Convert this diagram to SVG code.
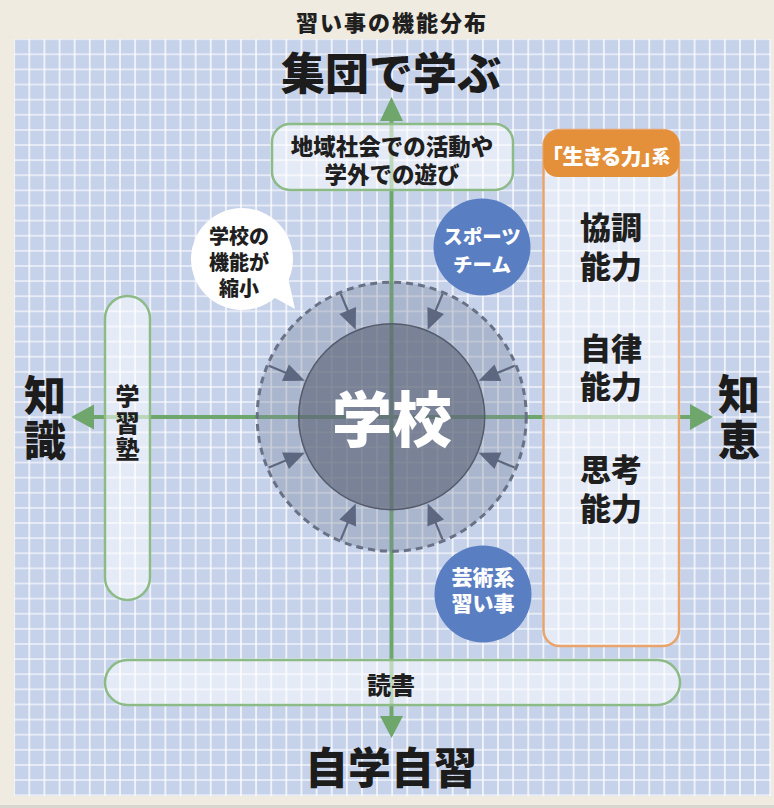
<svg xmlns="http://www.w3.org/2000/svg" width="774" height="808" viewBox="0 0 774 808">
<defs>
<pattern id="grid" x="21.74" y="46.74" width="15.12" height="15.12" patternUnits="userSpaceOnUse">
<rect width="15.12" height="15.12" fill="#c6d2ea"/>
<path d="M7.56 0V15.12" stroke="#ffffff" stroke-width="1.5" opacity="0.9"/>
<path d="M0 7.56H15.12" stroke="#ffffff" stroke-width="1.5" opacity="0.7"/>
</pattern>
<g id="inarrow">
<line x1="0" y1="-133" x2="0" y2="-112" stroke="#5d6880" stroke-width="2.2"/>
<polygon points="-9,-115 9,-115 0,-94" fill="#5d6880"/>
</g>
</defs>
<style>
.lbl{font-family:"Noto Sans CJK JP","Noto Sans CJK SC",sans-serif;font-weight:900;fill:#1f1f1f;text-anchor:middle;dominant-baseline:central}
.big{font-family:"Noto Sans CJK JP","Noto Sans CJK SC",sans-serif;font-weight:900;fill:#1c1c1c;text-anchor:middle;dominant-baseline:central}
.vert{writing-mode:vertical-rl;text-orientation:upright}
.wht{fill:#ffffff}
.gbox{fill:#ffffff;fill-opacity:0.55;stroke:#8dbb88;stroke-width:2.5}
.axis{stroke:#6ea66b;stroke-width:4;fill:none}
.ahead{fill:#6ea66b}
.blue{fill:#5a7ec2}
</style>
<rect width="774" height="808" fill="#efebe1"/>
<rect x="0" y="805" width="774" height="3" fill="#d9d6cf"/>
<rect x="14.2" y="39.2" width="756.8" height="756.8" fill="url(#grid)"/>

<text class="lbl" x="391" y="21" font-size="22" textLength="190">習い事の機能分布</text>

<g id="axes">
<line class="axis" x1="391.5" y1="119" x2="391.5" y2="718"/>
<line class="axis" x1="92" y1="417" x2="692" y2="417"/>
<polygon class="ahead" points="391.5,97 380,121 403,121"/>
<polygon class="ahead" points="391.5,738 380,716 403,716"/>
<polygon class="ahead" points="71,417 94,404.5 94,429.5"/>
<polygon class="ahead" points="713,417 690,404 690,430"/>
</g>

<g id="label-top"><text class="big" x="391" y="71" font-size="44">集団で学ぶ</text></g>
<g id="label-bottom"><text class="big" x="391" y="765" font-size="43">自学自習</text></g>
<g id="label-left"><text class="big vert" x="45" y="419" font-size="42" letter-spacing="3">知識</text></g>
<g id="label-right"><text class="big vert" x="739" y="419" font-size="42" letter-spacing="4">知恵</text></g>

<g id="school">
<circle cx="391.7" cy="416.7" r="134.5" fill="#7a849c" fill-opacity="0.36" stroke="#687185" stroke-width="3" stroke-dasharray="7 5"/>
<circle cx="391.7" cy="416.7" r="93" fill="#5a6275" fill-opacity="0.62" stroke="#545b6c" stroke-width="1.5"/>
<g transform="translate(391.7 416.7)">
<use href="#inarrow" transform="rotate(-22.5)"/>
<use href="#inarrow" transform="rotate(22.5)"/>
<use href="#inarrow" transform="rotate(67.5)"/>
<use href="#inarrow" transform="rotate(112.5)"/>
<use href="#inarrow" transform="rotate(157.5)"/>
<use href="#inarrow" transform="rotate(202.5)"/>
<use href="#inarrow" transform="rotate(247.5)"/>
<use href="#inarrow" transform="rotate(292.5)"/>
</g>
<text class="big wht" x="392" y="415" font-size="60">学校</text>
</g>

<g id="community">
<rect class="gbox" x="272" y="124" width="241" height="66" rx="18"/>
<text class="lbl" x="392" y="145" font-size="22.5">地域社会での活動や</text>
<text class="lbl" x="392" y="173" font-size="22.5">学外での遊び</text>
</g>

<g id="juku">
<rect class="gbox" x="105" y="296" width="45" height="304" rx="22.5"/>
<text class="lbl vert" x="127.5" y="424" font-size="24" letter-spacing="2.5">学習塾</text>
</g>

<g id="reading">
<rect class="gbox" x="105" y="660" width="575" height="45" rx="22.5"/>
<text class="lbl" x="391" y="683" font-size="24">読書</text>
</g>

<g id="ikiru">
<rect x="543.5" y="130" width="135.5" height="516" rx="16" fill="#ffffff" fill-opacity="0.55" stroke="#e9a46b" stroke-width="2.5"/>
<rect x="543.5" y="130" width="135.5" height="47" rx="14" fill="#e4903a"/>
<text class="lbl wht" x="611" y="155" font-size="21" style="font-feature-settings:'palt'">「生きる力」<tspan font-size="18">系</tspan></text>
<text class="lbl" x="611" y="225" font-size="31">協調</text>
<text class="lbl" x="611" y="264" font-size="31">能力</text>
<text class="lbl" x="611" y="346" font-size="31">自律</text>
<text class="lbl" x="611" y="384" font-size="31">能力</text>
<text class="lbl" x="611" y="467" font-size="31">思考</text>
<text class="lbl" x="611" y="506" font-size="31">能力</text>
</g>

<g id="sports">
<circle class="blue" cx="482" cy="247" r="48.5"/>
<text class="lbl wht" x="482" y="235" font-size="19.5">スポーツ</text>
<text class="lbl wht" x="482" y="263" font-size="19.5">チーム</text>
</g>

<g id="arts">
<circle class="blue" cx="483" cy="594" r="48.5"/>
<text class="lbl wht" x="483" y="576" font-size="21">芸術系</text>
<text class="lbl wht" x="483" y="602" font-size="21">習い事</text>
</g>

<g id="bubble">
<circle cx="242" cy="259" r="51" fill="#ffffff"/>
<path d="M266 293 L295 309 L286 268 Z" fill="#ffffff"/>
<text class="lbl" x="239" y="235" font-size="20">学校の</text>
<text class="lbl" x="239" y="261" font-size="20">機能が</text>
<text class="lbl" x="239" y="287" font-size="20">縮小</text>
</g>
</svg>
